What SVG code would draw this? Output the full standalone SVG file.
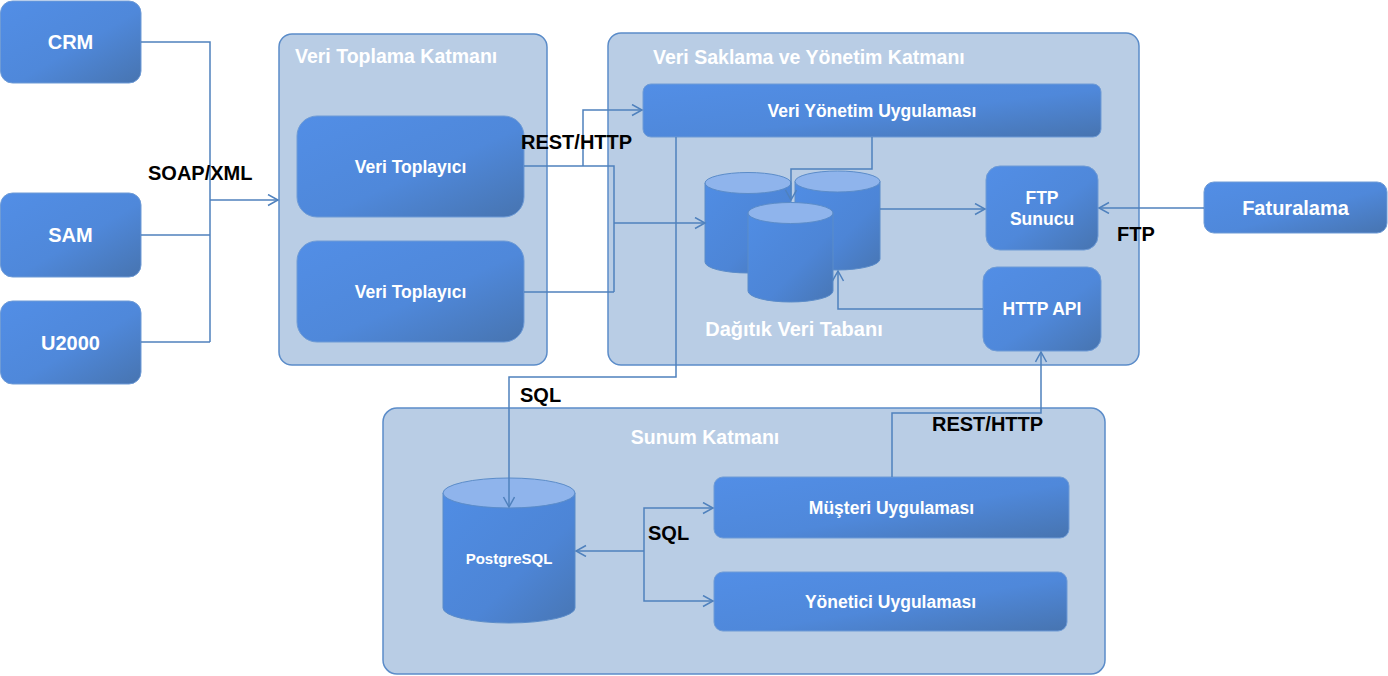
<svg xmlns="http://www.w3.org/2000/svg" width="1388" height="676" viewBox="0 0 1388 676">
<defs>
<linearGradient id="ng" x1="0" y1="0" x2="1" y2="1">
<stop offset="0" stop-color="#528ee6"/>
<stop offset="0.55" stop-color="#4f88da"/>
<stop offset="1" stop-color="#4774b0"/>
</linearGradient>
<linearGradient id="cg" x1="0" y1="0" x2="1" y2="1">
<stop offset="0" stop-color="#508de4"/>
<stop offset="0.6" stop-color="#4d85d6"/>
<stop offset="1" stop-color="#4876b4"/>
</linearGradient>
<marker id="arr" markerWidth="14" markerHeight="14" refX="11" refY="6" orient="auto" markerUnits="userSpaceOnUse">
<path d="M1,0.5 L11,6 L1,11.5" fill="none" stroke="#4f81bd" stroke-width="1.5"/>
</marker>
<style>
.layer{fill:#b9cde5;stroke:#5b8cc9;stroke-width:1.5}
.node{fill:url(#ng);stroke:#6e9bd6;stroke-width:1}
.cyl{fill:url(#cg);stroke:#5b8cc9;stroke-width:1}
.cyltop{fill:#8fb4ec;stroke:#5b8cc9;stroke-width:1}
.conn{fill:none;stroke:#4f81bd;stroke-width:1.5}
.title{font-family:"Liberation Sans",Arial,sans-serif;font-weight:bold;font-size:19.5px;fill:#ffffff}
.t20{font-family:"Liberation Sans",Arial,sans-serif;font-weight:bold;font-size:20px;fill:#ffffff;text-anchor:middle}
.t17{font-family:"Liberation Sans",Arial,sans-serif;font-weight:bold;font-size:17.5px;fill:#ffffff;text-anchor:middle}
.lbl{font-family:"Liberation Sans",Arial,sans-serif;font-weight:bold;font-size:20px;fill:#000000}
</style>
</defs>

<g id="layer-toplama">
<rect class="layer" x="279" y="34" width="268" height="331" rx="13"/>
<text class="title" x="295" y="63">Veri Toplama Katmanı</text>
</g>
<g id="layer-saklama">
<rect class="layer" x="608" y="33" width="531" height="332" rx="13"/>
<text class="title" x="653" y="64">Veri Saklama ve Yönetim Katmanı</text>
</g>
<g id="layer-sunum">
<rect class="layer" x="383" y="408" width="722" height="266" rx="14"/>
<text class="title" x="705" y="444" text-anchor="middle">Sunum Katmanı</text>
</g>

<g id="crm">
<rect class="node" x="0.5" y="1" width="140.5" height="82" rx="12"/>
<text class="t20" x="70.5" y="49">CRM</text>
</g>
<g id="sam">
<rect class="node" x="0.5" y="193" width="140.5" height="84" rx="12"/>
<text class="t20" x="70.5" y="242">SAM</text>
</g>
<g id="u2000">
<rect class="node" x="0.5" y="301" width="140.5" height="83" rx="12"/>
<text class="t20" x="70.5" y="349.5">U2000</text>
</g>
<g id="veri-toplayici-1">
<rect class="node" x="297" y="116" width="227" height="101" rx="20"/>
<text class="t17" x="410.5" y="173">Veri Toplayıcı</text>
</g>
<g id="veri-toplayici-2">
<rect class="node" x="297" y="241" width="227" height="101" rx="20"/>
<text class="t17" x="410.5" y="298">Veri Toplayıcı</text>
</g>
<g id="veri-yonetim">
<rect class="node" x="643" y="84" width="458" height="53" rx="8"/>
<text class="t17" x="872" y="117">Veri Yönetim Uygulaması</text>
</g>
<g id="dagitik-db">
<path class="cyl" d="M705,183 V262 A43,11 0 0 0 791,262 V183 Z"/>
<ellipse class="cyltop" cx="748" cy="183" rx="43" ry="10.5"/>
<path class="cyl" d="M795,181.5 V259 A42.5,11 0 0 0 880,259 V181.5 Z"/>
<ellipse class="cyltop" cx="837.5" cy="181.5" rx="42.5" ry="10.5"/>
<path class="cyl" d="M748,213 V291 A42.5,11 0 0 0 833,291 V213 Z"/>
<ellipse class="cyltop" cx="790.5" cy="213" rx="42.5" ry="10.5"/>
<text class="t20" x="794" y="336">Dağıtık Veri Tabanı</text>
</g>
<g id="ftp-sunucu">
<rect class="node" x="986" y="166" width="112" height="84" rx="14"/>
<text class="t17" x="1042" y="204">FTP</text>
<text class="t17" x="1042" y="225">Sunucu</text>
</g>
<g id="http-api">
<rect class="node" x="983" y="267" width="118" height="84" rx="14"/>
<text class="t17" x="1042" y="315">HTTP API</text>
</g>
<g id="faturalama">
<rect class="node" x="1204" y="182" width="183" height="51" rx="10"/>
<text class="t20" x="1295.5" y="215">Faturalama</text>
</g>
<g id="postgresql">
<path class="cyl" d="M443,493 V608 A66,15 0 0 0 575,608 V493 Z"/>
<ellipse class="cyltop" cx="509" cy="493" rx="66" ry="15"/>
<text class="t20" style="font-size:15px" x="509" y="564">PostgreSQL</text>
</g>
<g id="musteri-uygulamasi">
<rect class="node" x="714" y="477" width="355" height="61" rx="9"/>
<text class="t17" x="891.5" y="514">Müşteri Uygulaması</text>
</g>
<g id="yonetici-uygulamasi">
<rect class="node" x="714" y="572" width="353" height="59" rx="9"/>
<text class="t17" x="890.5" y="608">Yönetici Uygulaması</text>
</g>

<g id="connectors">
<path class="conn" d="M141,42 H210 V342"/>
<path class="conn" d="M141,235 H210"/>
<path class="conn" d="M141,342 H210"/>
<path class="conn" d="M210,200 H278" marker-end="url(#arr)"/>
<path class="conn" d="M524,166 H614 V292"/>
<path class="conn" d="M524,292 H614"/>
<path class="conn" d="M583,166 V110 H642" marker-end="url(#arr)"/>
<path class="conn" d="M614,223 H705" marker-end="url(#arr)"/>
<path class="conn" d="M676,137 V377 H509 V507" marker-end="url(#arr)"/>
<path class="conn" d="M872,137 V169 H791 V200" marker-end="url(#arr)"/>
<path class="conn" d="M880,209 H985" marker-end="url(#arr)"/>
<path class="conn" d="M1204,208 H1099" marker-end="url(#arr)"/>
<path class="conn" d="M983,309 H838 V271" marker-end="url(#arr)"/>
<path class="conn" d="M892,477 V413 H1041 V352" marker-end="url(#arr)"/>
<path class="conn" d="M644,551 H576" marker-end="url(#arr)"/>
<path class="conn" d="M644,551 V508 H713" marker-end="url(#arr)"/>
<path class="conn" d="M644,551 V601 H713" marker-end="url(#arr)"/>
<text class="lbl" x="148" y="180">SOAP/XML</text>
<text class="lbl" x="521" y="149">REST/HTTP</text>
<text class="lbl" x="520" y="402">SQL</text>
<text class="lbl" x="932" y="431">REST/HTTP</text>
<text class="lbl" x="1117" y="241">FTP</text>
<text class="lbl" x="648" y="540">SQL</text>
</g>
</svg>
